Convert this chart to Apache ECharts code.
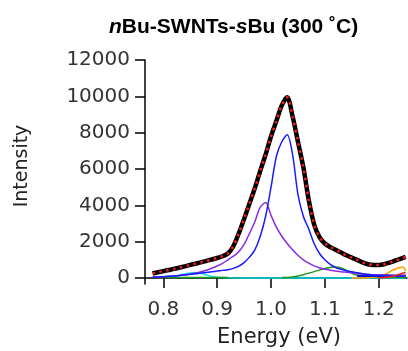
<!DOCTYPE html>
<html><head><meta charset="utf-8">
<script src="https://cdn.jsdelivr.net/npm/echarts@6/dist/echarts.min.js"></script>
<style>html,body{margin:0;padding:0;background:#fff}#c{width:408px;height:351px}</style>
</head><body><div id="c"></div>
<script>
// ---- data ----
const energy = [0.78,0.79,0.80,0.81,0.82,0.83,0.84,0.85,0.86,0.87,0.88,0.89,0.90,0.91,0.92,0.93,0.94,0.95,0.96,0.97,0.98,0.99,1.00,1.01,1.02,1.03,1.04,1.05,1.06,1.07,1.08,1.09,1.10,1.11,1.12,1.13,1.14,1.15,1.16,1.17,1.18,1.19,1.20,1.21,1.22,1.23,1.24,1.25];
const totalData = [250,320,380,440,500,570,640,720,790,860,940,1020,1100,1200,1350,1750,2450,3250,4100,4950,5900,6800,7800,8650,9500,9950,8900,7500,6100,4300,2950,2250,1900,1700,1550,1400,1250,1120,1000,860,760,720,720,760,850,950,1050,1160];
const fitData = totalData;
const blueData = [40,50,70,90,110,140,170,200,230,270,300,340,380,420,460,530,650,850,1150,1550,2300,3400,5000,6700,7500,7880,6800,4600,3400,2700,1900,1350,1000,750,580,480,400,340,290,240,200,170,150,140,130,120,110,110];
const purpleData = [50,60,75,90,110,140,180,220,270,340,430,540,660,800,1000,1200,1450,1850,2450,3100,3900,4150,3450,2800,2300,1900,1550,1250,1000,820,670,560,480,430,390,350,320,290,260,230,200,180,160,150,140,130,120,120];
const cyanX = [0.78,0.80,0.82,0.83,0.84,0.85,0.86,0.87,0.88,0.89,0.90,0.92,1.00,1.10,1.25];
const cyanY = [60,70,100,150,220,280,300,260,170,90,40,10,0,0,0];
const greenX = [0.79,0.92,null,1.02,1.04,1.06,1.08,1.10,1.12,1.13,1.14,1.15,1.16,1.18,1.20,1.25];
const greenY = [30,30,null,30,60,180,350,520,600,550,420,270,150,60,30,30];
const orangeX = [1.15,1.18,1.20,1.21,1.22,1.23,1.24,1.245,1.25];
const orangeY = [0,20,80,170,330,480,580,600,380];
const redX = [1.20,1.22,1.23,1.24,1.25];
const redY = [0,50,120,220,300];
const navyX = [1.16,1.20,1.25];
const navyY = [130,130,130];
const xTicks = [0.8,0.9,1.0,1.1,1.2];
const yTicks = [0,2000,4000,6000,8000,10000,12000];

const zip = (xs, ys) => xs.map((x,i) => (x===null ? [null,null] : [x, ys[i]]));
const lineS = (name, data, color, width, z, type, smooth) => ({
  name, type:'line', data, showSymbol:false, symbol:'none', z,
  connectNulls:false, animation:false, smooth: smooth || false,
  lineStyle:{color, width, type: type||'solid'}
});

const tickFont = {fontFamily:'DejaVu Sans', fontSize:20, color:'#333'};
const chart = echarts.init(document.getElementById('c'));
chart.setOption({
  animation:false,
  title:{
    left:104, top:12,
    text:'{i|n}{b|Bu-SWNTs-}{i|s}{b|Bu (300 ˚C)}',
    textStyle:{rich:{
      i:{fontFamily:'Liberation Sans', fontSize:21, fontWeight:'bold', fontStyle:'italic', color:'#000'},
      b:{fontFamily:'Liberation Sans', fontSize:21, fontWeight:'bold', color:'#000'}
    }}
  },
  grid:{left:145, right:1, top:60, bottom:67, containLabel:false},
  xAxis:{
    type:'value', min:0.766, max:1.2525,
    axisLine:{show:true, lineStyle:{color:'#000', width:1.5}},
    axisTick:{show:true, length:10, customValues:xTicks, lineStyle:{color:'#000', width:1.5}},
    axisLabel:Object.assign({margin:16, customValues:xTicks, formatter:v=>v.toFixed(1)}, tickFont),
    splitLine:{show:false}
  },
  yAxis:{
    type:'value', min:-330, max:12000,
    axisLine:{show:true, lineStyle:{color:'#000', width:1.5}},
    axisTick:{show:true, length:10, customValues:yTicks, lineStyle:{color:'#000', width:1.5}},
    axisLabel:Object.assign({margin:15, customValues:yTicks, formatter:v=>String(Math.round(v))}, tickFont),
    splitLine:{show:false}
  },
  graphic:[
    {type:'text', x:22, y:166, rotation:Math.PI/2,
     style:{text:'Intensity', fontFamily:'DejaVu Sans', fontSize:19, fill:'#222', textAlign:'center', textVerticalAlign:'middle'}},
    {type:'text', x:279, y:338,
     style:{text:'Energy (eV)', fontFamily:'DejaVu Sans', fontSize:21, fill:'#222', textAlign:'center', textVerticalAlign:'middle'}}
  ],
  series:[
    lineS('cyan', zip(cyanX,cyanY), '#00e0f0', 1.5, 2, null, 0.3),
    lineS('green', zip(greenX,greenY), '#1a9a1a', 1.5, 3, null, 0.3),
    lineS('orange', zip(orangeX,orangeY), '#ffa000', 1.5, 3, null, 0.3),
    lineS('navy', zip(navyX,navyY), '#1010d0', 2.5, 3),
    lineS('purple', zip(energy,purpleData), '#8a2be2', 1.5, 4, null, 0.3),
    lineS('blue', zip(energy,blueData), '#1a1aff', 1.5, 5, null, 0.3),
    lineS('red', zip(redX,redY), '#ff2020', 1.5, 5, null, 0.3),
    lineS('total', zip(energy,totalData), '#000', 4.5, 6, null, 0.3),
    lineS('fit', zip(energy,fitData), '#ff1a1a', 2.5, 7, [2.5,4.5], 0.3)
  ]
});
</script></body></html>
